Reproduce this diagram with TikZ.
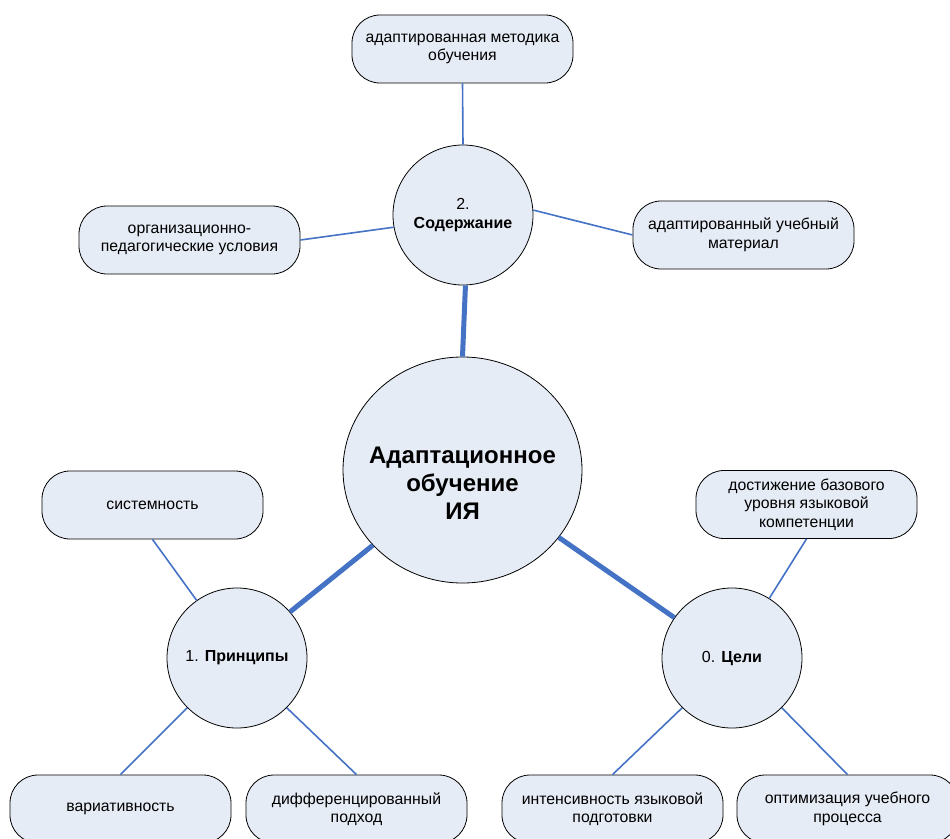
\documentclass[tikz,border=0pt]{standalone}
\usepackage{fontspec}
\setmainfont{Liberation Sans}
\usetikzlibrary{shapes.geometric}
\definecolor{fillblue}{HTML}{E6ECF6}
\definecolor{lineblue}{HTML}{4472C4}
\tikzset{
  leaf/.style={draw=black, line width=0.8pt, fill=fillblue, rounded corners=28pt,
    minimum width=221pt, minimum height=68pt, align=center, inner sep=2pt,
    font=\fontsize{15.8}{18.5}\selectfont},
  hub/.style={draw=black, line width=0.8pt, fill=fillblue, circle, minimum size=140pt,
    inner sep=0pt, align=center, font=\fontsize{16}{18.5}\selectfont},
  core/.style={draw=black, line width=0.8pt, fill=fillblue, ellipse, minimum width=239pt,
    minimum height=226pt, inner sep=0pt},
  coretext/.style={align=center, font=\bfseries\fontsize{24}{28}\selectfont},
  thin/.style={draw=lineblue, line width=1.6pt},
  thick/.style={draw=lineblue, line width=5pt},
}
\begin{document}
\begin{tikzpicture}[x=1pt,y=-1pt]
\useasboundingbox (0,0) rectangle (950,838);
\clip (0,0) rectangle (950,838);
% leaves
\node[leaf] (met) at (462.5,49) {адаптированная методика\\обучения};
\node[leaf] (org) at (189.5,240) {организационно-\\педагогические условия};
\node[leaf] (mat) at (743.5,235) {адаптированный учебный\\материал};
\node[leaf] (sys) at (152.5,505) {системность};
\node[leaf] (dost) at (806.5,504.5) {достижение базового\\уровня языковой\\компетенции};
\node[leaf] (var) at (120.5,809) {вариативность};
\node[leaf] (diff) at (356.5,809) {дифференцированный\\подход};
\node[leaf] (int) at (612.5,809) {интенсивность языковой\\подготовки};
\node[leaf] (opt) at (847.5,809) {оптимизация учебного\\процесса};
% hubs
\node[hub] (sod) at (463,215) {2.\\\textbf{Содержание}};
\node[hub] (pri) at (237,658) {1. \textbf{Принципы}};
\node[hub] (cel) at (732,658) {0. \textbf{Цели}};
\node[core, label={[coretext, yshift=-13pt]center:{Адаптационное\\обучение\\ИЯ}}] (c) at (462.5,470) {};
% connectors
\draw[thin] (met.south) -- (sod.north);
\draw[thin] (org.east) -- (sod.190);
\draw[thin] (sod.4) -- (mat.west);
\draw[thin] (sys.south) -- (pri.125);
\draw[thin] (pri.225) -- (var.north);
\draw[thin] (pri.315) -- (diff.north);
\draw[thin] (cel.58) -- (dost.south);
\draw[thin] (cel.225) -- (int.north);
\draw[thin] (cel.315) -- (opt.north);
\draw[thick] (c.north) -- (sod.-88);
\draw[thick] (c.220) -- (pri.41);
\draw[thick] (c.-35) -- (cel.145);
\end{tikzpicture}
\end{document}
